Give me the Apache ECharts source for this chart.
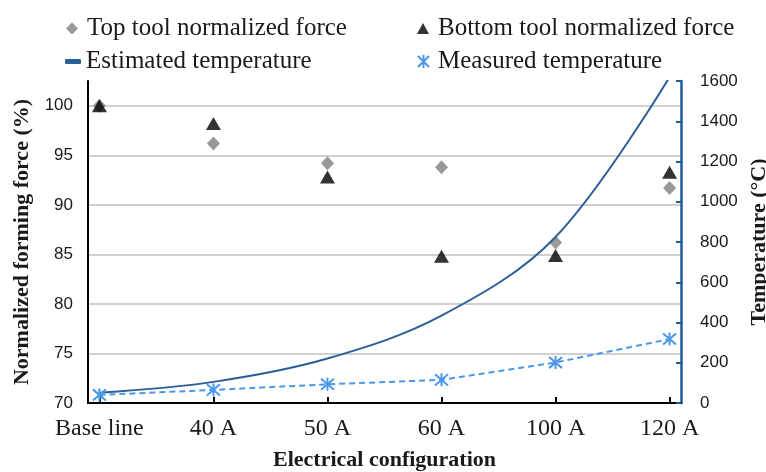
<!DOCTYPE html>
<html>
<head>
<meta charset="utf-8">
<script src="https://cdn.jsdelivr.net/npm/echarts@6/dist/echarts.min.js"></script>
<style>
  html, body { margin: 0; padding: 0; background: #fff; }
  #chart { width: 766px; height: 472px; }
</style>
</head>
<body>
<div id="chart"></div>
<script>
// values
const configs = ["Base line", "40 A", "50 A", "60 A", "100 A", "120 A"]
const topToolForce = [100, 96.2, 94.2, 93.8, 86.2, 91.7]
const bottomToolForce = [100, 98.2, 92.8, 84.8, 84.9, 93.3]
const estimatedTemp = [51, 105, 221, 434, 825, 1620]
const measuredTemp = [40, 65, 93, 115, 201, 318]

const serif = "Liberation Serif"
const sans = "Liberation Sans"
const darkBlue = "#2b5f97"
const lightBlue = "#4a98e8"
const asterisk = "path://M0,0L12,12M12,0L0,12M6,-1L6,13"

const toPoints = (arr) => arr.map((v, i) => [i, v])
const idx = configs.map((_, i) => i)

const chart = echarts.init(document.getElementById("chart"))

const legendText = {
  fontFamily: serif,
  fontSize: 25,
  color: "#1a1a1a",
}

const option = {
  backgroundColor: "#fff",
  animation: false,
  legend: [
    {
      data: ["Top tool normalized force"],
      left: 61,
      top: 11,
      icon: "diamond",
      itemWidth: 12,
      itemHeight: 12,
      selectedMode: false,
      textStyle: { ...legendText, padding: [0, 0, 0, 4] },
    },
    {
      data: ["Bottom tool normalized force"],
      left: 412,
      top: 11,
      icon: "triangle",
      itemWidth: 12,
      itemHeight: 11,
      selectedMode: false,
      textStyle: { ...legendText, padding: [0, 0, 0, 4] },
    },
    {
      data: ["Estimated temperature"],
      left: 60,
      top: 44,
      icon: "roundRect",
      itemWidth: 16,
      itemHeight: 5,
      selectedMode: false,
      textStyle: { ...legendText },
    },
    {
      data: ["Measured temperature"],
      left: 412,
      top: 44,
      icon: asterisk,
      itemWidth: 11,
      itemHeight: 13,
      selectedMode: false,
      itemStyle: { color: "transparent", borderColor: lightBlue, borderWidth: 2 },
      textStyle: { ...legendText, padding: [0, 0, 0, 4] },
    },
  ],
  grid: {
    left: 88,
    right: 85,
    top: 81,
    bottom: 69,
    outerBoundsMode: "none",
  },
  xAxis: {
    type: "value",
    min: -0.1,
    max: 5.1,
    name: "Electrical configuration",
    nameLocation: "middle",
    nameGap: 46,
    nameTextStyle: {
      fontFamily: serif,
      fontWeight: "bold",
      fontSize: 22,
      color: "#1a1a1a",
    },
    axisLine: { onZero: false, lineStyle: { color: "#000", width: 2 } },
    axisTick: {
      customValues: idx,
      inside: true,
      length: 6,
      lineStyle: { color: "#000", width: 2 },
    },
    axisLabel: {
      customValues: idx,
      formatter: (v) => configs[Math.round(v)],
      fontFamily: serif,
      fontSize: 24,
      color: "#1a1a1a",
      margin: 14,
    },
    splitLine: { show: false },
  },
  yAxis: [
    {
      type: "value",
      position: "left",
      min: 70,
      max: 102.5,
      interval: 5,
      name: "Normalized forming force (%)",
      nameLocation: "middle",
      nameGap: 52,
      nameTextStyle: {
        fontFamily: serif,
        fontWeight: "bold",
        fontSize: 22,
        color: "#1a1a1a",
      },
      axisLine: { show: true, onZero: false, lineStyle: { color: "#000", width: 2 } },
      axisTick: { show: false },
      axisLabel: {
        showMaxLabel: false,
        fontFamily: sans,
        fontSize: 17,
        color: "#1a1a1a",
        margin: 15,
      },
      splitLine: {
        showMaxLine: false,
        showMinLine: false,
        lineStyle: { color: "#c0c0c0", width: 1.5 },
      },
    },
    {
      type: "value",
      position: "right",
      min: 0,
      max: 1600,
      interval: 200,
      name: "Temperature (°C)",
      nameLocation: "middle",
      nameGap: 63,
      nameTextStyle: {
        fontFamily: serif,
        fontWeight: "bold",
        fontSize: 22,
        color: "#1a1a1a",
      },
      axisLine: { show: true, onZero: false, lineStyle: { color: "#1f5c9a", width: 2.5 } },
      axisTick: {
        show: true,
        inside: true,
        length: 5,
        lineStyle: { color: "#1f5c9a", width: 2 },
      },
      axisLabel: {
        formatter: (v) => String(v),
        fontFamily: sans,
        fontSize: 17,
        color: "#1a1a1a",
        margin: 19,
      },
      splitLine: { show: false },
    },
  ],
  series: [
    {
      name: "Top tool normalized force",
      type: "scatter",
      yAxisIndex: 0,
      symbol: "diamond",
      symbolSize: [13, 14],
      itemStyle: { color: "#808080" },
      data: toPoints(topToolForce),
    },
    {
      name: "Bottom tool normalized force",
      type: "scatter",
      yAxisIndex: 0,
      symbol: "triangle",
      symbolSize: [15, 13],
      itemStyle: { color: "#000" },
      data: toPoints(bottomToolForce),
    },
    {
      name: "Estimated temperature",
      type: "line",
      yAxisIndex: 1,
      smooth: 0.35,
      showSymbol: false,
      clip: true,
      itemStyle: { color: darkBlue },
      lineStyle: { color: darkBlue, width: 2 },
      data: toPoints(estimatedTemp),
    },
    {
      name: "Measured temperature",
      type: "line",
      yAxisIndex: 1,
      symbol: asterisk,
      symbolSize: 13,
      showAllSymbol: true,
      itemStyle: { color: "transparent", borderColor: lightBlue, borderWidth: 2 },
      lineStyle: { color: lightBlue, width: 2, type: [6, 4] },
      data: toPoints(measuredTemp),
    },
  ],
}

chart.setOption(option)
</script>
</body>
</html>
